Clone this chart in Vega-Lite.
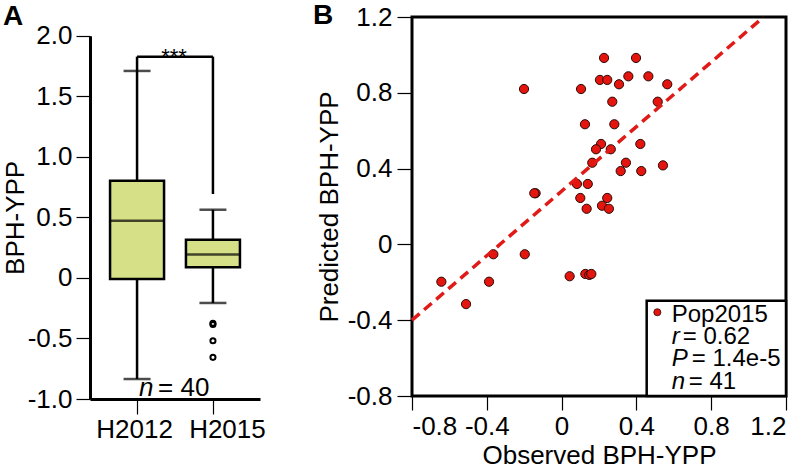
{
  "$schema": "https://vega.github.io/schema/vega-lite/v6.json",
  "background": "white",
  "padding": {"left": 2, "top": 0, "right": 0, "bottom": 0},
  "spacing": 152,
  "bounds": "flush",
  "config": {
    "view": {"stroke": null},
    "font": "Liberation Sans",
    "axis": {
      "labelFont": "Liberation Sans", "titleFont": "Liberation Sans",
      "labelFontSize": 26, "titleFontSize": 26, "titleFontWeight": "normal",
      "labelColor": "black", "titleColor": "black",
      "domainColor": "black", "tickColor": "black", "tickWidth": 1.2,
      "grid": false
    },
    "title": {"font": "Liberation Sans", "fontSize": 28, "fontWeight": "bold", "color": "black"}
  },
  "datasets": {
    "boxes": [
      {"group": "H2012", "lower": -0.835, "q1": -0.01, "median": 0.472, "q3": 0.803, "upper": 1.709},
      {"group": "H2015", "lower": -0.207, "q1": 0.087, "median": 0.194, "q3": 0.315, "upper": 0.563}
    ],
    "outliers": [
      {"group": "H2015", "value": -0.375},
      {"group": "H2015", "value": -0.385},
      {"group": "H2015", "value": -0.519},
      {"group": "H2015", "value": -0.656}
    ],
    "bracket": [
      {"from": "H2012", "to": "H2015", "top": 1.827, "leftEnd": 1.709, "rightEnd": 0.693}
    ],
    "annotA": [
      {"group": "H2012", "stars": "***", "starY": 1.77, "nLetter": "n", "nRest": "= 40", "nY": -0.975}
    ],
    "scatter": [
      {"observed": 0.227, "predicted": 0.984}, {"observed": 0.398, "predicted": 0.984},
      {"observed": 0.205, "predicted": 0.868}, {"observed": 0.244, "predicted": 0.868},
      {"observed": 0.357, "predicted": 0.887}, {"observed": 0.464, "predicted": 0.887},
      {"observed": 0.307, "predicted": 0.845}, {"observed": 0.565, "predicted": 0.845},
      {"observed": -0.201, "predicted": 0.82}, {"observed": 0.104, "predicted": 0.82},
      {"observed": 0.271, "predicted": 0.753}, {"observed": 0.514, "predicted": 0.753},
      {"observed": 0.125, "predicted": 0.634}, {"observed": 0.282, "predicted": 0.634},
      {"observed": 0.211, "predicted": 0.53}, {"observed": 0.184, "predicted": 0.502},
      {"observed": 0.263, "predicted": 0.502}, {"observed": 0.421, "predicted": 0.53},
      {"observed": 0.164, "predicted": 0.431}, {"observed": 0.344, "predicted": 0.431},
      {"observed": 0.316, "predicted": 0.387}, {"observed": 0.426, "predicted": 0.387},
      {"observed": 0.542, "predicted": 0.417}, {"observed": 0.082, "predicted": 0.319},
      {"observed": 0.14, "predicted": 0.319}, {"observed": -0.139, "predicted": 0.27},
      {"observed": -0.146, "predicted": 0.27}, {"observed": 0.1, "predicted": 0.245},
      {"observed": 0.244, "predicted": 0.245}, {"observed": 0.134, "predicted": 0.188},
      {"observed": 0.216, "predicted": 0.204}, {"observed": 0.253, "predicted": 0.188},
      {"observed": -0.643, "predicted": -0.197}, {"observed": -0.511, "predicted": -0.315},
      {"observed": -0.388, "predicted": -0.197}, {"observed": -0.365, "predicted": -0.052},
      {"observed": -0.197, "predicted": -0.052}, {"observed": 0.043, "predicted": -0.168},
      {"observed": 0.127, "predicted": -0.156}, {"observed": 0.148, "predicted": -0.161},
      {"observed": 0.159, "predicted": -0.156}
    ],
    "fit": [
      {"observed": -0.8, "predicted": -0.4},
      {"observed": 1.08, "predicted": 1.2}
    ],
    "legendBox": [
      {"x1": 0.455, "x2": 1.2, "y1": -0.8, "y2": -0.297, "dotX": 0.512, "dotY": -0.358, "textX": 0.589, "label": "Pop2015", "labelY": -0.411}
    ],
    "stats": [
      {"row": "r", "letter": "r", "rest": "= 0.62", "textX": 0.589, "y": -0.526},
      {"row": "P", "letter": "P", "rest": "= 1.4e-5", "textX": 0.589, "y": -0.643},
      {"row": "n", "letter": "n", "rest": "= 41", "textX": 0.589, "y": -0.763}
    ]
  },
  "hconcat": [
    {
      "width": 170,
      "height": 382,
      "title": {"text": "A", "anchor": "start", "frame": "group", "dx": -87, "offset": 0, "baseline": "alphabetic", "dy": 36},
      "encoding": {
        "x": {"field": "group", "type": "nominal",
          "scale": {"type": "point", "domain": ["H2012", "H2015"], "padding": 0.62},
          "axis": {"title": null, "labelAngle": 0, "domainWidth": 3, "tickSize": 15, "labelPadding": 2,
            "labelOffset": {"condition": {"test": "datum.value === 'H2015'", "value": 14}, "value": -3}}},
        "y": {"type": "quantitative",
          "scale": {"domain": [-1, 2], "range": [382, 18.7], "nice": false, "zero": false},
          "axis": {"title": "BPH-YPP", "values": [-1, -0.5, 0, 0.5, 1, 1.5, 2], "tickSize": 14, "labelPadding": 4, "titlePadding": -1, "domainWidth": 3,
            "labelExpr": "datum.value == 0 ? '0' : (datum.value < 0 ? '-' : '') + format(abs(datum.value), '.1f')"}}
      },
      "layer": [
        {"data": {"name": "boxes"}, "mark": {"type": "rule", "color": "black", "strokeWidth": 2.5},
          "encoding": {"y": {"field": "lower"}, "y2": {"field": "upper"}}},
        {"data": {"name": "boxes"}, "mark": {"type": "tick", "color": "black", "size": 27, "thickness": 2.5, "orient": "horizontal"},
          "encoding": {"y": {"field": "lower"}}},
        {"data": {"name": "boxes"}, "mark": {"type": "tick", "color": "black", "size": 27, "thickness": 2.5, "orient": "horizontal"},
          "encoding": {"y": {"field": "upper"}}},
        {"data": {"name": "boxes"}, "mark": {"type": "bar", "size": 54, "fill": "#d5e087", "stroke": "black", "strokeWidth": 2.5},
          "encoding": {"y": {"field": "q1"}, "y2": {"field": "q3"}}},
        {"data": {"name": "boxes"}, "mark": {"type": "tick", "color": "black", "size": 54, "thickness": 2.5, "orient": "horizontal"},
          "encoding": {"y": {"field": "median"}}},
        {"data": {"name": "outliers"}, "mark": {"type": "point", "shape": "circle", "filled": false, "stroke": "black", "strokeWidth": 2, "size": 26, "opacity": 1},
          "encoding": {"y": {"field": "value"}}},
        {"data": {"name": "bracket"}, "mark": {"type": "rule", "color": "black", "strokeWidth": 2.5},
          "encoding": {"x": {"field": "from"}, "x2": {"field": "to"}, "y": {"field": "top"}}},
        {"data": {"name": "bracket"}, "mark": {"type": "rule", "color": "black", "strokeWidth": 2.5},
          "encoding": {"x": {"field": "from"}, "y": {"field": "leftEnd"}, "y2": {"field": "top"}}},
        {"data": {"name": "bracket"}, "mark": {"type": "rule", "color": "black", "strokeWidth": 2.5},
          "encoding": {"x": {"field": "to"}, "y": {"field": "rightEnd"}, "y2": {"field": "top"}}},
        {"data": {"name": "annotA"}, "mark": {"type": "text", "fontSize": 22, "align": "center", "baseline": "alphabetic", "dx": 37, "color": "black"},
          "encoding": {"y": {"field": "starY"}, "text": {"field": "stars"}}},
        {"data": {"name": "annotA"}, "mark": {"type": "text", "fontSize": 26, "fontStyle": "italic", "align": "left", "baseline": "alphabetic", "dx": 2, "color": "black"},
          "encoding": {"y": {"field": "nY"}, "text": {"field": "nLetter"}}},
        {"data": {"name": "annotA"}, "mark": {"type": "text", "fontSize": 26, "align": "left", "baseline": "alphabetic", "dx": 21, "color": "black"},
          "encoding": {"y": {"field": "nY"}, "text": {"field": "nRest"}}}
      ]
    },
    {
      "width": 374,
      "height": 379,
      "view": {"stroke": "black", "strokeWidth": 3},
      "title": {"text": "B", "anchor": "start", "frame": "group", "dx": -99, "offset": 0, "baseline": "alphabetic", "dy": 48},
      "layer": [
        {"data": {"name": "scatter"}, "mark": {"type": "point", "shape": "circle", "filled": true, "fill": "#e3150e", "stroke": "#2a0a06", "strokeWidth": 1, "size": 85, "opacity": 1},
          "encoding": {
            "x": {"field": "observed", "type": "quantitative",
              "scale": {"domain": [-0.8, 1.2], "nice": false, "zero": false},
              "axis": {"title": "Observed BPH-YPP", "values": [-0.8, -0.4, 0, 0.4, 0.8, 1.2], "domain": false, "tickSize": 14, "labelPadding": 3, "titlePadding": 3,
                "labelExpr": "datum.value == 0 ? '0' : (datum.value < 0 ? '-' : '') + format(abs(datum.value), '.1f')"}},
            "y": {"field": "predicted", "type": "quantitative",
              "scale": {"domain": [-0.8, 1.2], "nice": false, "zero": false},
              "axis": {"title": "Predicted BPH-YPP", "values": [-0.8, -0.4, 0, 0.4, 0.8, 1.2], "domain": false, "tickSize": 15, "labelPadding": 5, "titlePadding": 5,
                "labelExpr": "datum.value == 0 ? '0' : (datum.value < 0 ? '-' : '') + format(abs(datum.value), '.1f')"}}
          }},
        {"data": {"name": "fit"}, "mark": {"type": "line", "color": "#e01b17", "strokeWidth": 3.5, "strokeDash": [10, 6]},
          "encoding": {"x": {"field": "observed", "type": "quantitative"}, "y": {"field": "predicted", "type": "quantitative"}}},
        {"data": {"name": "legendBox"}, "mark": {"type": "rect", "fill": "white", "stroke": "black", "strokeWidth": 2.5},
          "encoding": {"x": {"field": "x1", "type": "quantitative"}, "x2": {"field": "x2"}, "y": {"field": "y1", "type": "quantitative"}, "y2": {"field": "y2"}}},
        {"data": {"name": "legendBox"}, "mark": {"type": "point", "shape": "circle", "filled": true, "fill": "#e3150e", "stroke": "#2a0a06", "strokeWidth": 0.8, "size": 50, "opacity": 1},
          "encoding": {"x": {"field": "dotX", "type": "quantitative"}, "y": {"field": "dotY", "type": "quantitative"}}},
        {"data": {"name": "legendBox"}, "mark": {"type": "text", "fontSize": 24, "align": "left", "baseline": "alphabetic", "color": "black"},
          "encoding": {"x": {"field": "textX", "type": "quantitative"}, "y": {"field": "labelY", "type": "quantitative"}, "text": {"field": "label"}}},
        {"data": {"name": "stats"}, "mark": {"type": "text", "fontSize": 24, "fontStyle": "italic", "align": "left", "baseline": "alphabetic", "color": "black"},
          "encoding": {"x": {"field": "textX", "type": "quantitative"}, "y": {"field": "y", "type": "quantitative"}, "text": {"field": "letter"}}},
        {"data": {"name": "stats"}, "transform": [{"filter": "datum.row == 'r'"}], "mark": {"type": "text", "fontSize": 24, "align": "left", "baseline": "alphabetic", "dx": 11, "color": "black"},
          "encoding": {"x": {"field": "textX", "type": "quantitative"}, "y": {"field": "y", "type": "quantitative"}, "text": {"field": "rest"}}},
        {"data": {"name": "stats"}, "transform": [{"filter": "datum.row == 'P'"}], "mark": {"type": "text", "fontSize": 24, "align": "left", "baseline": "alphabetic", "dx": 20, "color": "black"},
          "encoding": {"x": {"field": "textX", "type": "quantitative"}, "y": {"field": "y", "type": "quantitative"}, "text": {"field": "rest"}}},
        {"data": {"name": "stats"}, "transform": [{"filter": "datum.row == 'n'"}], "mark": {"type": "text", "fontSize": 24, "align": "left", "baseline": "alphabetic", "dx": 17, "color": "black"},
          "encoding": {"x": {"field": "textX", "type": "quantitative"}, "y": {"field": "y", "type": "quantitative"}, "text": {"field": "rest"}}}
      ]
    }
  ]
}
